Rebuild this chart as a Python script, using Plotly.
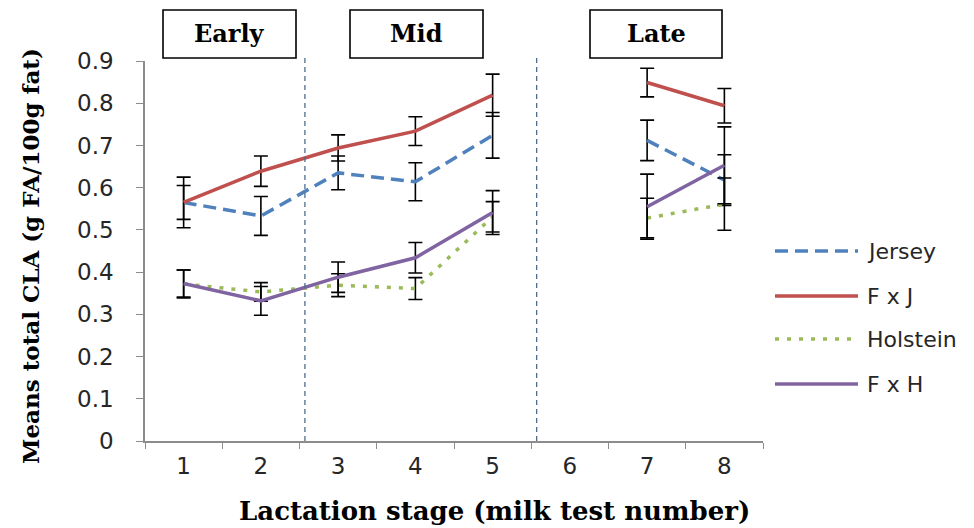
import plotly.graph_objects as go

# ---- data ----
stages = ["1", "2", "3", "4", "5", "6", "7", "8"]
series_names = ["Jersey", "F x J", "Holstein", "F x H"]
jersey = [0.565, 0.533, 0.635, 0.614, 0.724, None, 0.712, 0.618]
jersey_err = [0.060, 0.046, 0.040, 0.045, 0.054, 0, 0.048, 0.060]
fxj = [0.565, 0.639, 0.694, 0.734, 0.819, None, 0.849, 0.794]
fxj_err = [0.040, 0.036, 0.031, 0.034, 0.050, 0, 0.034, 0.041]
holstein = [0.372, 0.353, 0.369, 0.361, 0.531, None, 0.528, 0.561]
holstein_err = [0.033, 0.022, 0.027, 0.026, 0.036, 0, 0.047, 0.062]
fxh = [0.373, 0.332, 0.388, 0.434, 0.541, None, 0.555, 0.653]
fxh_err = [0.032, 0.034, 0.036, 0.036, 0.052, 0, 0.077, 0.091]
stage_labels = ["Early", "Mid", "Late"]
stage_dividers = [1.57, 4.57]  # category-index positions of the dashed dividers

W, H = 974, 528
L, R, T, B = 145, 211, 61, 87
PW, PH = W - L - R, H - T - B


def px(x):
    return (x - L) / PW


def py(y):
    return (H - B - y) / PH


colors = ["#4F81BD", "#C0504D", "#9BBB59", "#8064A2"]
dashes = ["13px,7px", "solid", "4px,8px", "solid"]
values = [jersey, fxj, holstein, fxh]
errors = [jersey_err, fxj_err, holstein_err, fxh_err]

SANS = "DejaVu Sans"
SERIF = "DejaVu Serif"

fig = go.Figure()
for name, vals, errs, col, dsh in zip(series_names, values, errors, colors, dashes):
    fig.add_trace(go.Scatter(
        x=stages, y=vals, name=name, mode="lines",
        line=dict(color=col, width=3.5, dash=dsh),
        connectgaps=False,
        error_y=dict(type="data", array=errs, visible=True,
                     color="black", thickness=1.6, width=7),
        showlegend=False,
    ))

shapes = []
annotations = []
# dashed stage dividers
for xd in stage_dividers:
    shapes.append(dict(type="line", xref="x", yref="paper", x0=xd, x1=xd,
                       y0=0, y1=py(56), line=dict(color="#4E6E8E", width=1.3, dash="5px,4px")))

# stage boxes
boxes = [(163, 296), (350, 483), (590, 722)]
for (x0, x1), lab in zip(boxes, stage_labels):
    shapes.append(dict(type="rect", xref="paper", yref="paper",
                       x0=px(x0), x1=px(x1), y0=py(58), y1=py(10),
                       line=dict(color="black", width=1.6), fillcolor="white"))
    annotations.append(dict(text=lab, xref="paper", yref="paper",
                            x=px((x0 + x1) / 2), y=py(34), showarrow=False,
                            xanchor="center", yanchor="middle",
                            font=dict(family=SERIF, size=24, color="black", weight="bold")))

# custom legend
leg_y = [251, 296, 339, 384]
for name, col, dsh, yy in zip(series_names, colors, dashes, leg_y):
    shapes.append(dict(type="line", xref="paper", yref="paper",
                       x0=px(775), x1=px(858), y0=py(yy), y1=py(yy),
                       line=dict(color=col, width=3.5, dash=dsh)))
    annotations.append(dict(text=name, xref="paper", yref="paper",
                            x=px(865), y=py(yy), showarrow=False,
                            xanchor="left", yanchor="middle",
                            font=dict(family=SANS, size=22, color="#262626")))

# axis titles
annotations.append(dict(text="Means total CLA (g FA/100g fat)", xref="paper", yref="paper",
                        x=px(31), y=py(256), showarrow=False, textangle=-90,
                        xanchor="center", yanchor="middle",
                        font=dict(family=SERIF, size=23, color="black", weight="bold")))
annotations.append(dict(text="Lactation stage (milk test number)", xref="paper", yref="paper",
                        x=px(494), y=py(511), showarrow=False,
                        xanchor="center", yanchor="middle",
                        font=dict(family=SERIF, size=26, color="black", weight="bold")))

fig.update_layout(
    width=W, height=H,
    margin=dict(l=L, r=R, t=T, b=B, pad=0),
    paper_bgcolor="white", plot_bgcolor="white",
    shapes=shapes, annotations=annotations,
    showlegend=False,
    xaxis=dict(type="category", categoryorder="array", categoryarray=stages,
               range=[-0.5, 7.5], showgrid=False, zeroline=False,
               showline=True, linecolor="#8C8C8C", linewidth=1.5,
               ticks="outside", tickson="boundaries", ticklen=6, tickcolor="#8C8C8C",
               tickfont=dict(family=SANS, size=23, color="#262626"),
               ticklabelstandoff=4),
    yaxis=dict(range=[0, 0.9], dtick=0.1, tick0=0, showgrid=False, zeroline=False,
               showline=True, linecolor="#8C8C8C", linewidth=1.5,
               ticks="outside", ticklen=7, tickcolor="#8C8C8C",
               tickformat=".1~f",
               tickfont=dict(family=SANS, size=23, color="#262626"),
               ticklabelstandoff=18),
)

fig.write_html("out.html")
